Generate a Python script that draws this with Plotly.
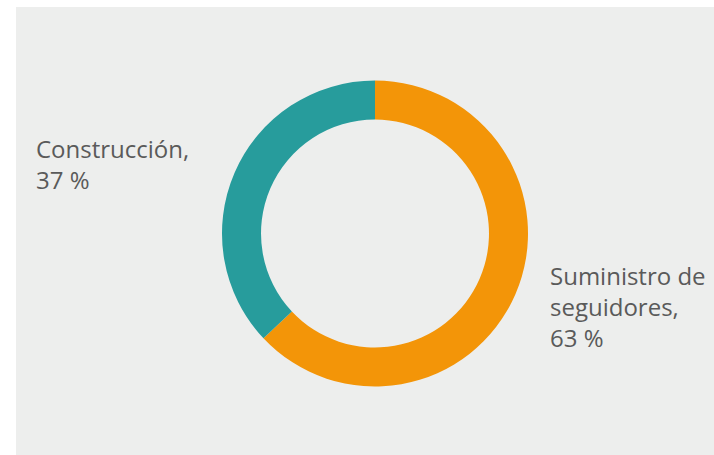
import plotly.graph_objects as go

labels = ["Suministro de seguidores", "Construcción"]
values = [63, 37]
colors = ["#f39508", "#279c9c"]
label_texts = ["Suministro de<br>seguidores,<br>63 %", "Construcción,<br>37 %"]

W, H = 714, 455
cx, cy, r = 375, 233.5, 153

fig = go.Figure(go.Pie(
    labels=labels, values=values, hole=0.745, sort=False, direction="clockwise",
    rotation=0, marker=dict(colors=colors, line=dict(width=0)),
    textinfo="none", hoverinfo="label+percent", showlegend=False,
    domain=dict(x=[(cx - r) / W, (cx + r) / W], y=[(H - cy - r) / H, (H - cy + r) / H]),
))

font = dict(family="Open Sans, sans-serif", size=24, color="#5a5a5a")
fig.add_annotation(x=34 / W, y=1 - 130 / H, xref="paper", yref="paper", xanchor="left", yanchor="top",
                   align="left", showarrow=False, text=label_texts[1], font=font)
fig.add_annotation(x=548 / W, y=1 - 257 / H, xref="paper", yref="paper", xanchor="left", yanchor="top",
                   align="left", showarrow=False, text=label_texts[0], font=font)

fig.add_shape(type="rect", xref="paper", yref="paper", x0=16 / W, x1=1, y0=0, y1=1 - 7 / H,
              fillcolor="#edeeed", line=dict(width=0), layer="below")

fig.update_layout(width=W, height=H, margin=dict(l=0, r=0, t=0, b=0),
                  paper_bgcolor="white", plot_bgcolor="white")
fig.write_html("out.html", config={"displayModeBar": False},
               post_script="document.body.style.margin='0';")
